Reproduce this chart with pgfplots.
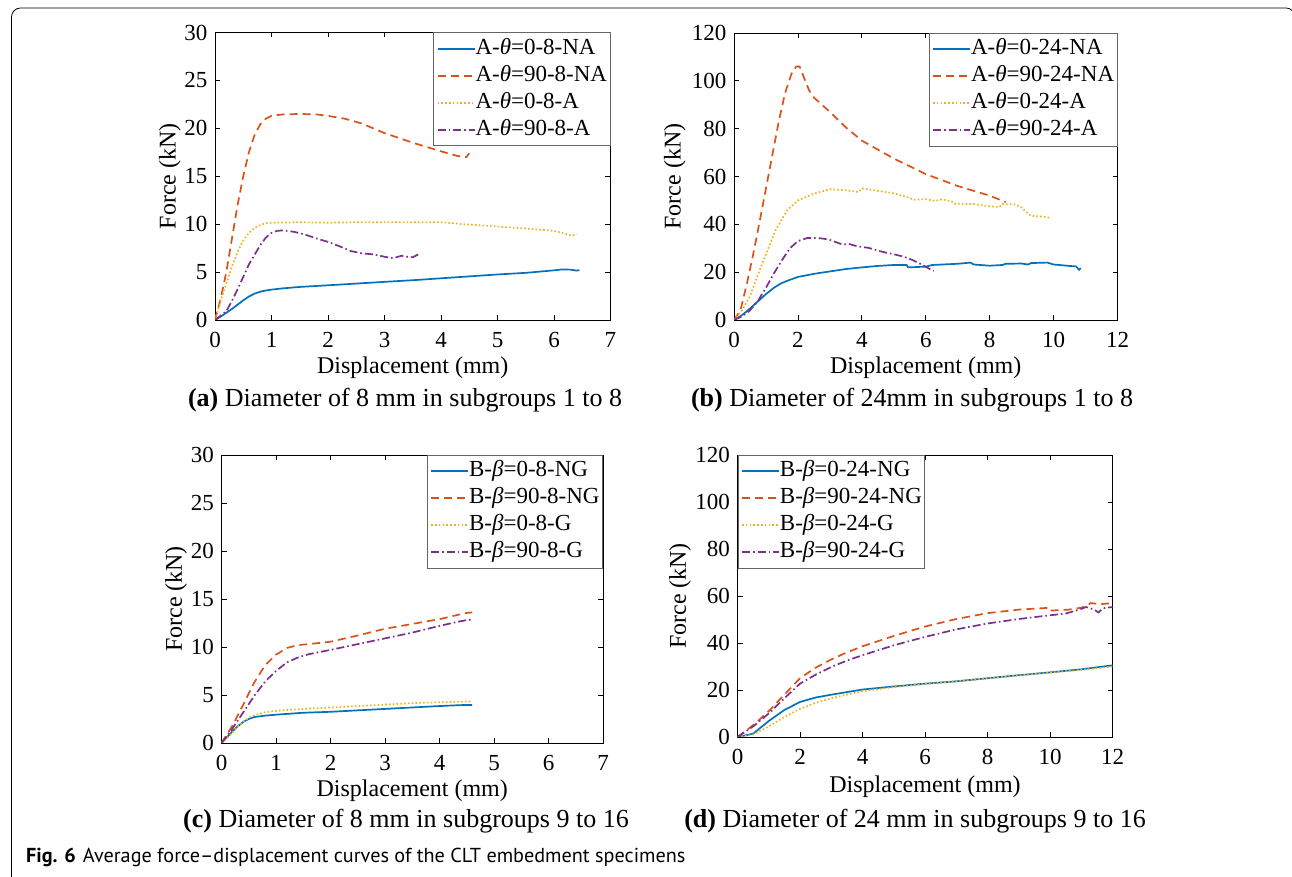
\documentclass[border=0pt]{standalone}
\usepackage{fontspec}
\setmainfont{Liberation Serif}
\newfontfamily\capfont{PT Sans}
\usepackage{pgfplots}
\pgfplotsset{compat=1.18}
\definecolor{mblue}{RGB}{0,114,189}
\definecolor{morange}{RGB}{217,83,25}
\definecolor{myellow}{RGB}{237,177,32}
\definecolor{mpurple}{RGB}{126,47,142}
\pgfplotsset{
  legend image code/.code={\draw[#1,line width=2pt] (0pt,0pt) -- (37pt,0pt);},
  panel/.style={
    scale only axis,
    anchor=south west,
    axis line style={black,line width=0.8pt},
    tick style={black,line width=0.8pt},
    tick align=inside,
    major tick length=5pt,
    xtick pos=both, ytick pos=both,
    /pgf/number format/assume math mode=true,
    ticklabel style={font=\fontsize{23}{23}\selectfont},
    xticklabel style={yshift=-9pt},
    yticklabel style={xshift=-4pt},
    label style={font=\fontsize{24}{24}\selectfont},
    xlabel={Displacement (mm)},
    ylabel={Force (kN)},
    xlabel style={at={(axis description cs:0.5,0)},anchor=center,yshift=-48pt},
    legend cell align=left,
    legend style={draw=gray!80!black,line width=0.8pt,
      font=\fontsize{23}{23}\selectfont,
      nodes={inner sep=0pt,text height=17pt,text depth=6pt},
      row sep=4pt, inner xsep=3pt, inner ysep=4.5pt},
  },
  s1/.style={mblue,solid,line width=1.7pt},
  s2/.style={morange,line width=1.7pt,dash pattern=on 8pt off 5pt},
  s3/.style={myellow,line width=1.7pt,dash pattern=on 1.6pt off 2.2pt},
  s4/.style={mpurple,line width=1.7pt,dash pattern=on 8pt off 3pt on 1.6pt off 3pt},
}
\begin{document}
\begin{tikzpicture}[x=1pt,y=1pt]
\path[use as bounding box] (0,0) rectangle (1292,877);
\draw[line width=0.8pt,rounded corners=9pt] (11.5,-4) -- (11.5,869) -- (1295,869) -- (1295,-4);

% (a)
\begin{axis}[panel, at={(215pt,557pt)}, width=395.5pt, height=287.5pt,
  xmin=0, xmax=7, ymin=0, ymax=30, xtick={0,...,7}, ytick={0,5,...,30},
  ylabel style={at={(axis description cs:-0.114,0.5)},anchor=center},
  legend style={at={(1,1)},anchor=north east}]
\addplot[s1] coordinates {(0,0)(0.1,0.35)(0.2,0.75)(0.3,1.15)(0.4,1.6)(0.5,2.05)(0.6,2.45)(0.7,2.75)(0.8,2.95)(0.9,3.08)(1.0,3.17)(1.2,3.3)(1.5,3.45)(2,3.62)(2.5,3.8)(3,3.98)(3.5,4.15)(4,4.35)(4.5,4.55)(5,4.75)(5.5,4.92)(6,5.18)(6.15,5.28)(6.3,5.25)(6.4,5.15)(6.45,5.2)};
\addlegendentry{A-\textit{θ}=0-8-NA}
\addplot[s2] coordinates {(0,0)(0.1,2.2)(0.2,5)(0.3,8.5)(0.4,12)(0.5,15)(0.6,17.5)(0.7,19.3)(0.8,20.4)(0.9,21.0)(1.0,21.3)(1.2,21.45)(1.5,21.5)(1.8,21.45)(2.0,21.3)(2.3,21.0)(2.6,20.5)(3.0,19.5)(3.5,18.5)(4.0,17.6)(4.3,17.1)(4.45,17.0)(4.5,17.4)};
\addlegendentry{A-\textit{θ}=90-8-NA}
\addplot[s3] coordinates {(0,0)(0.1,2)(0.2,3.8)(0.3,5.6)(0.4,7.1)(0.5,8.3)(0.6,9.1)(0.7,9.6)(0.8,9.9)(0.9,10.1)(1.0,10.15)(1.5,10.2)(2,10.15)(2.5,10.2)(3,10.2)(3.5,10.2)(4.0,10.2)(4.5,9.95)(5.0,9.75)(5.5,9.55)(6.0,9.3)(6.2,9.0)(6.3,8.8)(6.4,8.95)};
\addlegendentry{A-\textit{θ}=0-8-A}
\addplot[s4] coordinates {(0,0)(0.2,0.9)(0.3,2.0)(0.4,3.2)(0.5,4.5)(0.6,5.8)(0.7,6.8)(0.8,7.8)(0.9,8.6)(1.0,9.1)(1.1,9.3)(1.2,9.35)(1.4,9.2)(1.6,8.9)(1.8,8.5)(2.0,8.15)(2.2,7.7)(2.4,7.2)(2.6,6.95)(2.8,6.85)(3.0,6.6)(3.15,6.45)(3.3,6.7)(3.4,6.6)(3.5,6.55)(3.6,6.85)(3.65,6.85)};
\addlegendentry{A-\textit{θ}=90-8-A}
\end{axis}

% (b)
\begin{axis}[panel, at={(734pt,557pt)}, width=383.5pt, height=287pt,
  xmin=0, xmax=12, ymin=0, ymax=120, xtick={0,2,...,12}, ytick={0,20,...,120},
  ylabel style={at={(axis description cs:-0.154,0.5)},anchor=center},
  legend style={at={(1,1)},anchor=north east}]
\addplot[s1] coordinates {(0,0)(0.25,2)(0.5,4.8)(0.75,7.8)(1.0,10.8)(1.25,13.5)(1.5,15.5)(1.75,16.8)(2.0,18)(2.5,19.3)(3.0,20.3)(3.5,21.3)(4.0,22)(4.5,22.6)(5.0,23)(5.4,23)(5.45,22)(6.0,22.3)(6.2,23.0)(7.0,23.5)(7.4,24.0)(7.5,23.2)(8.0,22.7)(8.4,23.0)(8.5,23.5)(9.0,23.6)(9.2,23.2)(9.3,23.8)(9.8,24.0)(10.0,23.2)(10.5,22.6)(10.7,22.4)(10.8,21.0)(10.85,21.7)};
\addlegendentry{A-\textit{θ}=0-24-NA}
\addplot[s2] coordinates {(0,0)(0.2,4)(0.4,15)(0.6,27.5)(0.8,41)(1.0,55)(1.2,69)(1.4,83)(1.6,95)(1.8,103)(1.95,106)(2.05,106)(2.2,101)(2.35,96)(2.5,93)(3.0,87)(3.5,80.5)(4.0,75)(5.0,67.5)(6.0,61)(7.0,56)(8.0,52)(8.5,49.3)};
\addlegendentry{A-\textit{θ}=90-24-NA}
\addplot[s3] coordinates {(0,0)(0.25,4)(0.5,10)(0.75,19)(1.0,27.5)(1.3,37.5)(1.65,45.7)(2.0,50)(2.5,52.8)(3.0,54.7)(3.5,54.2)(3.9,53.5)(4.0,55)(4.5,54)(5.0,53)(5.5,51)(5.6,50.3)(6.0,50.5)(6.3,49.8)(6.5,50.4)(6.8,49.7)(6.9,48.6)(7.5,48.5)(8.0,47.5)(8.3,47.2)(8.4,48.5)(8.8,48.3)(9.0,47)(9.2,44.5)(9.3,43.5)(9.6,43.3)(9.9,42.7)};
\addlegendentry{A-\textit{θ}=0-24-A}
\addplot[s4] coordinates {(0,0)(0.25,1.5)(0.5,4)(0.75,8)(1.0,13.5)(1.25,19.5)(1.5,25)(1.75,30)(2.0,33)(2.3,34.3)(2.6,34.3)(2.8,34)(3.0,33.5)(3.2,32.5)(3.4,31.5)(3.6,31.8)(3.8,31)(4.0,30.5)(4.2,30.2)(4.5,29)(4.8,28)(5.0,27.5)(5.3,26.5)(5.6,25)(5.9,23)(6.1,21.5)(6.25,20.5)};
\addlegendentry{A-\textit{θ}=90-24-A}
\end{axis}

% (c)
\begin{axis}[panel, at={(221.5pt,134pt)}, width=381.5pt, height=288pt,
  xmin=0, xmax=7, ymin=0, ymax=30, xtick={0,...,7}, ytick={0,5,...,30},
  ylabel style={at={(axis description cs:-0.119,0.5)},anchor=center},
  legend style={at={(1,1)},anchor=north east}]
\addplot[s1] coordinates {(0,0)(0.1,0.6)(0.2,1.2)(0.3,1.75)(0.4,2.2)(0.5,2.5)(0.6,2.7)(0.8,2.85)(1.0,2.95)(1.5,3.15)(2.0,3.25)(2.5,3.4)(3.0,3.55)(3.5,3.7)(4.0,3.85)(4.5,3.97)(4.6,3.95)};
\addlegendentry{B-\textit{β}=0-8-NG}
\addplot[s2] coordinates {(0,0)(0.2,1.8)(0.4,4)(0.6,6.3)(0.8,8.1)(1.0,9.2)(1.2,9.9)(1.4,10.2)(1.6,10.3)(2.0,10.55)(2.5,11.2)(3.0,11.9)(3.5,12.4)(4.0,12.9)(4.3,13.3)(4.5,13.55)(4.6,13.6)};
\addlegendentry{B-\textit{β}=90-8-NG}
\addplot[s3] coordinates {(0,0)(0.1,0.5)(0.2,1.1)(0.3,1.7)(0.4,2.2)(0.5,2.6)(0.6,2.9)(0.8,3.2)(1.0,3.35)(1.5,3.55)(2.0,3.7)(2.5,3.85)(3.0,4.0)(3.5,4.15)(4.0,4.25)(4.5,4.32)(4.6,4.32)};
\addlegendentry{B-\textit{β}=0-8-G}
\addplot[s4] coordinates {(0,0)(0.2,1.5)(0.4,3.2)(0.6,4.9)(0.8,6.4)(1.0,7.5)(1.2,8.4)(1.4,8.9)(1.6,9.25)(2.0,9.7)(2.5,10.3)(3.0,10.9)(3.5,11.5)(4.0,12.2)(4.4,12.7)(4.55,12.85)(4.6,12.65)};
\addlegendentry{B-\textit{β}=90-8-G}
\end{axis}

% (d)
\begin{axis}[panel, at={(737.5pt,140pt)}, width=375pt, height=282pt,
  xmin=0, xmax=12, ymin=0, ymax=120, xtick={0,2,...,12}, ytick={0,20,...,120},
  ylabel style={at={(axis description cs:-0.153,0.5)},anchor=center},
  xlabel style={yshift=-2pt},
  legend style={at={(0,1)},anchor=north west}]
\addplot[s1] coordinates {(0,0)(0.5,1.4)(1.0,6.8)(1.5,11.5)(2.0,14.9)(2.5,16.8)(3.0,18)(4.0,20.2)(5.0,21.5)(6.0,22.7)(7.0,23.7)(8.0,25)(9.0,26.3)(10.0,27.5)(11.0,28.8)(12.0,30.5)};
\addlegendentry{B-\textit{β}=0-24-NG}
\addplot[s2] coordinates {(0,0)(0.5,5)(1.0,11)(1.5,18)(2.0,25)(2.5,29.5)(3.0,33)(3.5,36)(4.0,38.6)(5.0,43)(6.0,47)(7.0,50.2)(8.0,52.7)(9.0,54.2)(10.0,55)(10.05,53.8)(10.6,54.2)(11.0,55)(11.2,56)(11.3,57)(11.6,56.5)(12,57)};
\addlegendentry{B-\textit{β}=90-24-NG}
\addplot[s3] coordinates {(0,0)(0.5,1)(1.0,4.5)(1.5,8.5)(2.0,12)(2.5,14.5)(3.0,16.5)(4.0,19.5)(5.0,21.2)(6.0,22.6)(7,23.7)(8,25)(9,26.2)(10,27.4)(11,28.5)(12,30.0)};
\addlegendentry{B-\textit{β}=0-24-G}
\addplot[s4] coordinates {(0,0)(0.5,4.5)(1.0,10)(1.5,16.5)(2.0,22.7)(2.5,26.5)(3.0,29.8)(3.5,32.5)(4.0,34.8)(5.0,39)(6.0,42.6)(7.0,45.8)(8.0,48.3)(9.0,50.2)(10.0,51.8)(10.5,52.5)(11.0,54.5)(11.15,55.3)(11.4,54.3)(11.55,53)(11.7,54.8)(12,55.3)};
\addlegendentry{B-\textit{β}=90-24-G}
\end{axis}

\node[font=\fontsize{26}{26}\selectfont] at (405,477) {\textbf{(a)} Diameter of 8 mm in subgroups 1 to 8};
\node[font=\fontsize{26}{26}\selectfont] at (912,477) {\textbf{(b)} Diameter of 24mm in subgroups 1 to 8};
\node[font=\fontsize{26}{26}\selectfont] at (406,56) {\textbf{(c)} Diameter of 8 mm in subgroups 9 to 16};
\node[font=\fontsize{26}{26}\selectfont] at (915,56) {\textbf{(d)} Diameter of 24 mm in subgroups 9 to 16};
\node[anchor=base west,inner sep=0pt,font=\capfont\fontsize{20.2}{20.2}\selectfont] at (26,14) {\textbf{Fig. 6}\hspace{7pt}Average force–displacement curves of the CLT embedment specimens};
\end{tikzpicture}
\end{document}
